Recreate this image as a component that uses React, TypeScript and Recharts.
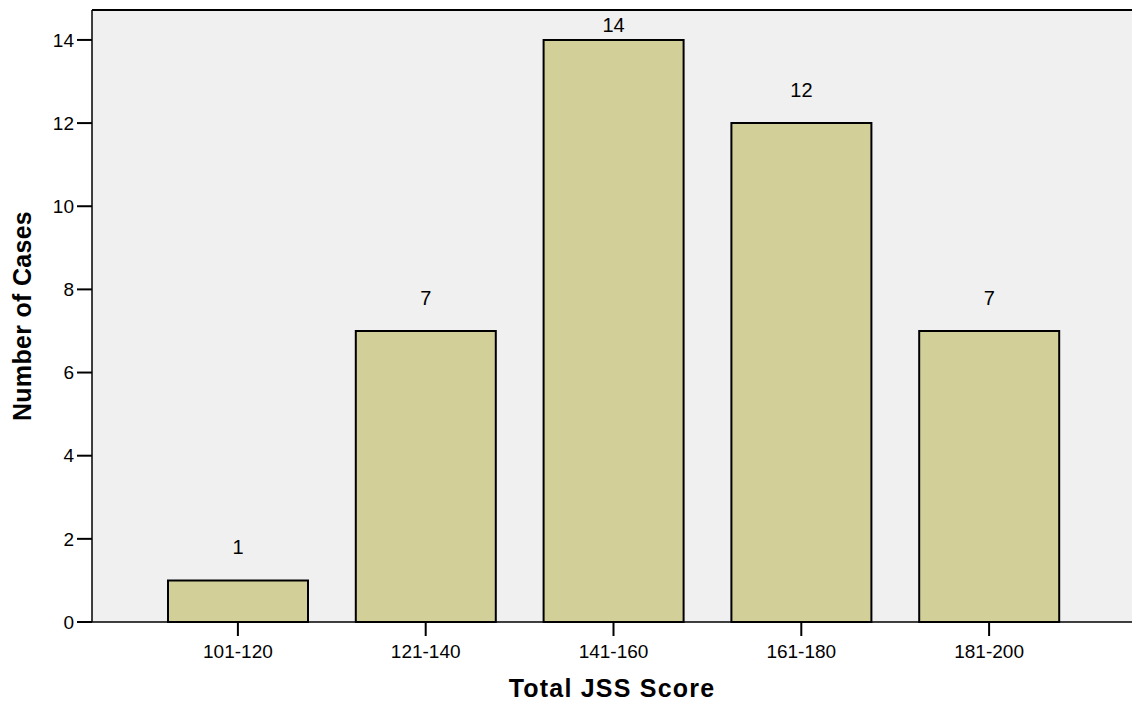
import { BarChart, Bar, XAxis, YAxis, CartesianGrid, ReferenceLine, LabelList } from "recharts";

// Score bands and how many cases fall in each
const categories = ["101-120", "121-140", "141-160", "161-180", "181-200"];
const cases = [1, 7, 14, 12, 7];
const yTicks = [0, 2, 4, 6, 8, 10, 12, 14];
const Y_MAX = 14.72;

const data = categories.map((band, i) => ({ band, cases: cases[i] }));

const FONT = "'Liberation Sans', Arial, Helvetica, sans-serif";

export default function App() {
  return (
    <div style={{ position: "absolute", left: 0, top: 0, width: 1132, height: 702, background: "#fff", fontFamily: FONT }}>
      <BarChart width={1132} height={702} data={data} margin={{ top: 10, right: 0, bottom: 0, left: 0 }}>
        <CartesianGrid fill="#f0f0f0" stroke="none" horizontal={false} vertical={false} />
        <XAxis
          dataKey="band"
          height={80}
          padding={{ left: 52, right: 49 }}
          axisLine={{ stroke: "#000", strokeWidth: 1.5 }}
          tickLine={{ stroke: "#000", strokeWidth: 2 }}
          tickSize={14}
          tickMargin={9}
          tick={{ fill: "#000", fontSize: 19, fontFamily: FONT }}
          label={{
            content: () => (
              <text x={612} y={697} textAnchor="middle" fontFamily={FONT} fontSize={25} fontWeight="bold" letterSpacing={1.2} fill="#000">
                Total JSS Score
              </text>
            ),
          }}
        />
        <YAxis
          width={92}
          domain={[0, Y_MAX]}
          ticks={yTicks}
          axisLine={{ stroke: "#000", strokeWidth: 1.5 }}
          tickLine={{ stroke: "#000", strokeWidth: 2 }}
          tickSize={15}
          tickMargin={3}
          tick={{ fill: "#000", fontSize: 19, fontFamily: FONT }}
          label={{
            content: () => (
              <text
                x={31}
                y={316}
                transform="rotate(-90 31 316)"
                textAnchor="middle"
                fontFamily={FONT}
                fontSize={25}
                fontWeight="bold"
                letterSpacing={0.3}
                fill="#000"
              >
                Number of Cases
              </text>
            ),
          }}
        />
        <ReferenceLine y={Y_MAX} stroke="#000" strokeWidth={2} ifOverflow="extendDomain" />
        <Bar dataKey="cases" barSize={140} fill="#d3cf99" stroke="#000" strokeWidth={2} isAnimationActive={false}>
          <LabelList
            dataKey="cases"
            content={(props: any) => {
              const { x, y, width, value } = props;
              const cy = Math.max(25, Number(y) - 33);
              return (
                <text x={Number(x) + Number(width) / 2} y={cy} dy="0.35em" textAnchor="middle" fontFamily={FONT} fontSize={20} fill="#000">
                  {value}
                </text>
              );
            }}
          />
        </Bar>
      </BarChart>
    </div>
  );
}
